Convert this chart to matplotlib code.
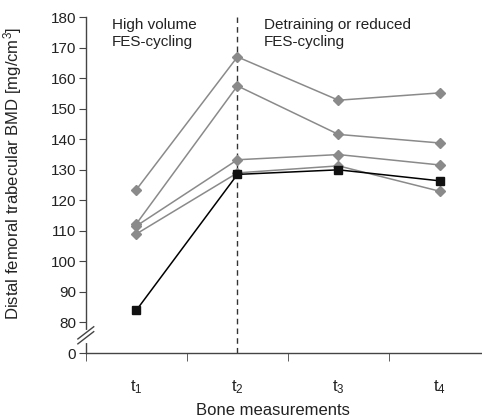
import numpy as np
import matplotlib
matplotlib.use("Agg")
import matplotlib.pyplot as plt

plt.rcParams['font.family'] = ['Liberation Sans', 'DejaVu Sans']
plt.rcParams['mathtext.default'] = 'regular'

# ── Data ──────────────────────────────────────────────────────────────────────
time_points = [1, 2, 3, 4]
time_labels = [r"$\mathregular{t_1}$", r"$\mathregular{t_2}$",
               r"$\mathregular{t_3}$", r"$\mathregular{t_4}$"]

subj_a = [123.5, 167.0, 152.8, 155.2]
subj_b = [112.3, 157.5, 141.6, 138.8]
subj_c = [111.6, 133.3, 135.0, 131.6]
subj_d = [109.0, 129.0, 131.3, 123.0]
subj_black = [84.0, 128.5, 130.0, 126.4]

y_ticks = [70, 80, 90, 100, 110, 120, 130, 140, 150, 160, 170, 180]
y_tick_labels = ["0", "80", "90", "100", "110", "120", "130", "140",
                 "150", "160", "170", "180"]

GRAY = "#8a8a8a"
FS = 11

# ── Plot ──────────────────────────────────────────────────────────────────────
fig = plt.figure(figsize=(4.82, 4.19), dpi=100)
ax = fig.add_axes([0.178, 0.1575, 0.822, 0.8015])

for s in [subj_a, subj_b, subj_c, subj_d]:
    ax.plot(time_points, s, color=GRAY, linewidth=1.1, marker="D",
            markersize=5.5, markerfacecolor=GRAY, markeredgecolor=GRAY)
ax.plot(time_points, subj_black, color="black", linewidth=1.1, marker="s",
        markersize=6, markerfacecolor="#111111", markeredgecolor="#111111")

ax.axvline(2, color="#333333", linestyle=(0, (4, 3)), linewidth=1.0, zorder=1)

ax.text(0.76, 179.8, "High volume\nFES-cycling", fontsize=FS, va="top",
        ha="left", color="#222222", linespacing=1.3)
ax.text(2.26, 179.8, "Detraining or reduced\nFES-cycling", fontsize=FS,
        va="top", ha="left", color="#222222", linespacing=1.3)

ax.set_xlim(0.5, 4.42)
ax.set_ylim(70, 180)
ax.set_yticks(y_ticks)
ax.set_yticklabels(y_tick_labels, fontsize=FS, color="#222222")

ax.set_xticks(time_points)
ax.set_xticklabels(time_labels, fontsize=FS + 1, color="#222222")
ax.set_xticks([0.5, 1.5, 2.5, 3.5], minor=True)
ax.tick_params(axis="x", which="major", length=0, pad=18)
ax.tick_params(axis="x", which="minor", length=6, direction="out",
               color="#444444")
ax.tick_params(axis="y", length=5, direction="out", color="#444444", pad=2)

for side in ["top", "right"]:
    ax.spines[side].set_visible(False)
for side in ["left", "bottom"]:
    ax.spines[side].set_color("#444444")
    ax.spines[side].set_linewidth(1.0)

# axis break on y
ax.plot([0.5, 0.5], [73.8, 77.0], transform=ax.transData, color="white",
        linewidth=3, clip_on=False, zorder=5)
for dy in [0.0, 1.6]:
    ax.plot([-0.02, 0.02], np.array([73.0, 77.0]) + dy, color="#444444",
            linewidth=1.0, clip_on=False, zorder=6,
            transform=ax.get_yaxis_transform())

ax.set_xlabel("Bone measurements", fontsize=FS + 1, color="#222222")
ax.xaxis.set_label_coords(0.472, -0.15)
ax.set_ylabel("Distal femoral trabecular BMD [mg/cm$^3$]", fontsize=FS + 1,
              color="#222222")
ax.yaxis.set_label_coords(-0.155, 0.536)

fig.savefig("out.png", dpi=100)
